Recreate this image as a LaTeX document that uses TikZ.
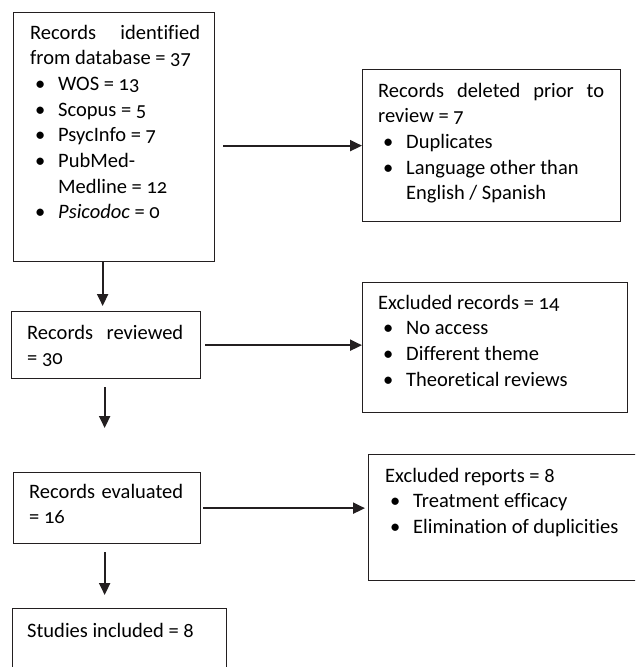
\documentclass[tikz,border=0pt]{standalone}
\usepackage{fontspec}
\setmainfont{Carlito}[Numbers=OldStyle, Ligatures=NoCommon]
\usetikzlibrary{arrows.meta}
\definecolor{ink}{HTML}{231F20}
\newcommand\itm[1]{\hspace*{10pt}\makebox[0pt]{\textbullet}\hspace*{18pt}#1}
\newcommand\jline[2]{\makebox[#1][s]{#2}}
\tikzset{
  box/.style={draw=ink, line width=1.3pt, anchor=north west, inner sep=0pt},
  txt/.style={anchor=base west, inner sep=0pt, text=black,
    font=\fontsize{20.5pt}{25.7pt}\selectfont},
  arr/.style={draw=ink, line width=2pt, -{Triangle[length=12pt,width=11pt]}}
}
\begin{document}
\begin{tikzpicture}[x=1pt,y=-1pt]
\useasboundingbox (0,0) rectangle (635,667);
\clip (0,0) rectangle (635,667);
% boxes
\node[box, minimum width=201pt, minimum height=249pt] (b1) at (13,12) {};
\node[box, minimum width=258pt, minimum height=152pt] (del) at (362,69) {};
\node[box, minimum width=189pt, minimum height=67pt] (b2) at (11,311) {};
\node[box, minimum width=265pt, minimum height=130pt] (ex1) at (362,282) {};
\node[box, minimum width=187pt, minimum height=71pt] (b3) at (13,472) {};
\node[box, minimum width=280pt, minimum height=126pt] (ex2) at (368,454) {};
\node[box, minimum width=214pt, minimum height=90pt] (b4) at (12,608) {};
% texts
\node[txt] (t1) at (30,39) {\parbox[t]{172pt}{\jline{170pt}{Records identified}\\
  from database = 37\\
  \itm{WOS = 13}\\
  \itm{Scopus = 5}\\
  \itm{PsycInfo = 7}\\
  \itm{PubMed-}\\
  \hspace*{28pt}Medline = 12\\
  \itm{\textit{Psicodoc} = 0}}};
\node[txt] (tdel) at (378,97) {\parbox[t]{230pt}{\jline{226pt}{Records deleted prior to}\\
  review = 7\\
  \itm{Duplicates}\\
  \itm{Language other than}\\
  \hspace*{28pt}English / Spanish}};
\node[txt] (t2) at (27,339) {\parbox[t]{160pt}{\jline{156pt}{Records reviewed}\\
  = 30}};
\node[txt] (tex1) at (378,309) {\parbox[t]{240pt}{Excluded records = 14\\
  \itm{No access}\\
  \itm{Different theme}\\
  \itm{Theoretical reviews}}};
\node[txt] (t3) at (29,498) {\parbox[t]{160pt}{\jline{154pt}{Records evaluated}\\
  = 16}};
\node[txt] (tex2) at (385,482) {\parbox[t]{250pt}{Excluded reports = 8\\
  \itm{Treatment efficacy}\\
  \itm{Elimination of duplicities}}};
\node[txt] (t4) at (27,637) {Studies included = 8};
% arrows
\draw[arr] ([xshift=-11.5pt]b1.south) -- ([xshift=-3.5pt,yshift=5pt]b2.north);
\draw[arr] ([xshift=8pt]b1.east |- del.west) -- (del.west);
\draw[arr] ([xshift=4pt]b2.east) -- (b2.east -| ex1.west);
\draw[arr] ([xshift=-1.5pt,yshift=-8pt]b2.south) -- ([xshift=-1.5pt,yshift=44pt]b2.south |- b3.north);
\draw[arr] ([xshift=2pt]b3.east) -- ([xshift=-3pt]b3.east -| ex2.west);
\draw[arr] ([xshift=-2.5pt,yshift=-8pt]b3.south) -- ([xshift=-2.5pt,yshift=13pt]b3.south |- b4.north);
\end{tikzpicture}
\end{document}
